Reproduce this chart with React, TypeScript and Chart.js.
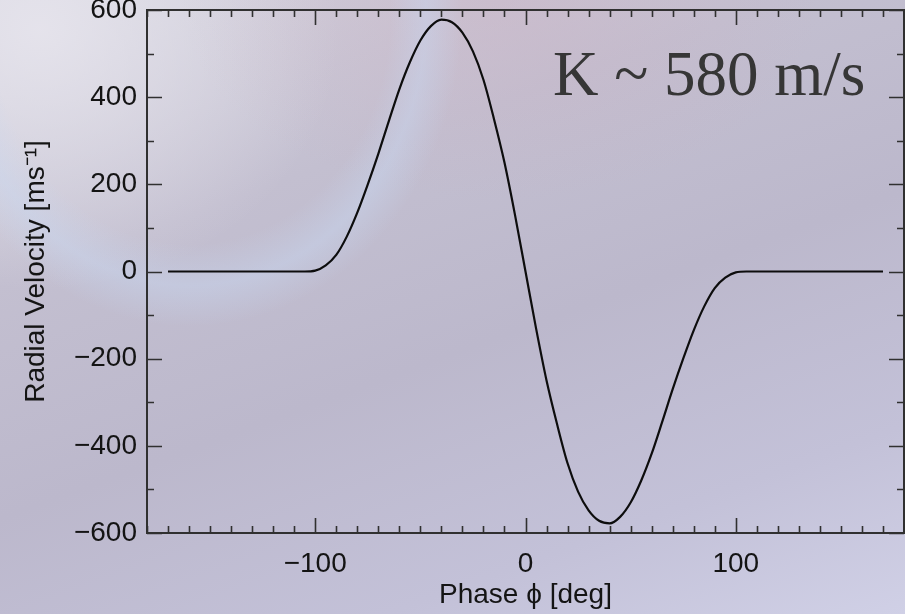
import React, { useEffect, useRef } from "react";
import { Chart, registerables } from "chart.js";

Chart.register(...registerables);

// ---- Data ----
const phases: number[] = [
  -170, -165, -160, -155, -150, -145, -140, -135, -130, -125, -120, -115, -110, -105,
  -100, -95, -90, -85, -80, -75, -70, -65, -60, -55, -50, -45, -40, -35, -30, -25, -20, -15, -10, -5,
  0,
  5, 10, 15, 20, 25, 30, 35, 40, 45, 50, 55, 60, 65, 70, 75, 80, 85, 90, 95, 100,
  105, 110, 115, 120, 125, 130, 135, 140, 145, 150, 155, 160, 165, 170,
];
const velocities: number[] = [
  0, 0, 0, 0, 0, 0, 0, 0, 0, 0, 0, 0, 0, 0,
  2, 14, 38, 80, 135, 200, 270, 345, 418, 480, 530, 563, 578, 572, 548, 505, 440, 350, 250, 130,
  0,
  -130, -250, -350, -440, -505, -548, -572, -578, -563, -530, -480, -418, -345, -270, -200, -135, -80, -38, -14, -2,
  0, 0, 0, 0, 0, 0, 0, 0, 0, 0, 0, 0, 0, 0,
];

const xTickLabels: number[] = [-100, 0, 100];
const yTickLabels: number[] = [-600, -400, -200, 0, 200, 400, 600];
const xRange = { min: -180, max: 180, minorStep: 10, majorStep: 100 };
const yRange = { min: -600, max: 600, minorStep: 100, majorStep: 200 };

const annotationText = "K ~ 580 m/s";
const xTitle = "Phase \u03D5 [deg]";
const yTitle = "Radial Velocity [ms\u207B\u00B9]";

const SANS = "'Liberation Sans', Arial, Helvetica, sans-serif";
const SERIF = "'Liberation Serif', 'Times New Roman', serif";
const INK = "#141414";

const fmt = (v: number) => (v < 0 ? "\u2212" + Math.abs(v) : String(v));

const framePlugin = {
  id: "frameTicks",
  afterDraw(chart: any) {
    const { ctx, chartArea, scales } = chart;
    const { left, right, top, bottom } = chartArea;
    const xs = scales.x;
    const ys = scales.y;
    ctx.save();
    ctx.strokeStyle = "#303030";
    ctx.lineWidth = 2;
    ctx.strokeRect(left, top, right - left, bottom - top);
    ctx.lineWidth = 1.6;
    ctx.beginPath();
    for (let v = xRange.min; v <= xRange.max; v += xRange.minorStep) {
      const px = Math.round(xs.getPixelForValue(v)) + 0.5;
      const len = v % xRange.majorStep === 0 ? 15 : 7;
      ctx.moveTo(px, bottom);
      ctx.lineTo(px, bottom - len);
      ctx.moveTo(px, top);
      ctx.lineTo(px, top + len);
    }
    for (let v = yRange.min; v <= yRange.max; v += yRange.minorStep) {
      const py = Math.round(ys.getPixelForValue(v)) + 0.5;
      const len = v % yRange.majorStep === 0 ? 15 : 7;
      ctx.moveTo(left, py);
      ctx.lineTo(left + len, py);
      ctx.moveTo(right, py);
      ctx.lineTo(right - len, py);
    }
    ctx.stroke();

    // annotation
    ctx.fillStyle = "#363636";
    ctx.font = `63px ${SERIF}`;
    ctx.textBaseline = "alphabetic";
    ctx.textAlign = "left";
    ctx.fillText(annotationText, 553, 95);
    ctx.restore();
  },
};

export default function App() {
  const canvasRef = useRef<HTMLCanvasElement | null>(null);

  useEffect(() => {
    const canvas = canvasRef.current;
    if (!canvas) return;
    const points = phases.map((p, i) => ({ x: p, y: velocities[i] }));
    const chart = new Chart(canvas, {
      type: "line",
      data: {
        datasets: [
          {
            data: points,
            borderColor: "#0d0d0d",
            borderWidth: 2.2,
            pointRadius: 0,
            fill: false,
            cubicInterpolationMode: "monotone",
          },
        ],
      },
      options: {
        animation: false,
        responsive: false,
        devicePixelRatio: 1,
        layout: { padding: { top: 10, right: 1, left: 0, bottom: 0 } },
        plugins: { legend: { display: false }, tooltip: { enabled: false } },
        scales: {
          x: {
            type: "linear",
            min: xRange.min,
            max: xRange.max,
            grid: { display: false, drawTicks: false },
            border: { display: false },
            afterBuildTicks: (s: any) => {
              s.ticks = xTickLabels.map((v) => ({ value: v }));
            },
            afterFit: (s: any) => {
              s.height = 81;
              s.paddingLeft = 0;
              s.paddingRight = 0;
            },
            ticks: {
              color: INK,
              font: { family: SANS, size: 28 },
              padding: 14,
              maxRotation: 0,
              autoSkip: false,
              callback: (v: any) => fmt(Number(v)),
            },
            title: {
              display: true,
              text: xTitle,
              color: INK,
              font: { family: SANS, size: 28 },
              padding: { top: 0, bottom: 2 },
            },
          },
          y: {
            type: "linear",
            min: yRange.min,
            max: yRange.max,
            grid: { display: false, drawTicks: false },
            border: { display: false },
            afterBuildTicks: (s: any) => {
              s.ticks = yTickLabels.map((v) => ({ value: v }));
            },
            afterFit: (s: any) => {
              s.width = 147;
              s.paddingTop = 0;
              s.paddingBottom = 0;
            },
            ticks: {
              color: INK,
              font: { family: SANS, size: 28 },
              padding: 10,
              autoSkip: false,
              callback: (v: any) => fmt(Number(v)),
            },
            title: {
              display: true,
              text: yTitle,
              color: INK,
              font: { family: SANS, size: 28 },
              padding: { top: 19, bottom: 0 },
            },
          },
        },
      },
      plugins: [framePlugin],
    } as any);
    return () => chart.destroy();
  }, []);

  return (
    <div
      style={{
        position: "absolute",
        left: 0,
        top: 0,
        width: 905,
        height: 614,
        overflow: "hidden",
        background: [
          "radial-gradient(ellipse 240px 275px at 190px 15px, rgba(200,215,240,0) 200px, rgba(200,216,242,0.42) 236px, rgba(200,215,240,0) 272px)",
          "radial-gradient(ellipse 320px 200px at 500px 0px, rgba(205,172,190,0.35) 0px, rgba(205,172,190,0) 320px)",
          "radial-gradient(ellipse 300px 260px at 40px 30px, rgba(232,230,238,0.85) 0px, rgba(232,230,238,0) 300px)",
          "linear-gradient(160deg, #d4d3de 0%, #c3bfd0 30%, #bcb8cc 55%, #c3c1d8 80%, #d0d0e6 100%)",
        ].join(", "),
      }}
    >
      <canvas ref={canvasRef} width={905} height={614} style={{ display: "block" }} />
    </div>
  );
}
